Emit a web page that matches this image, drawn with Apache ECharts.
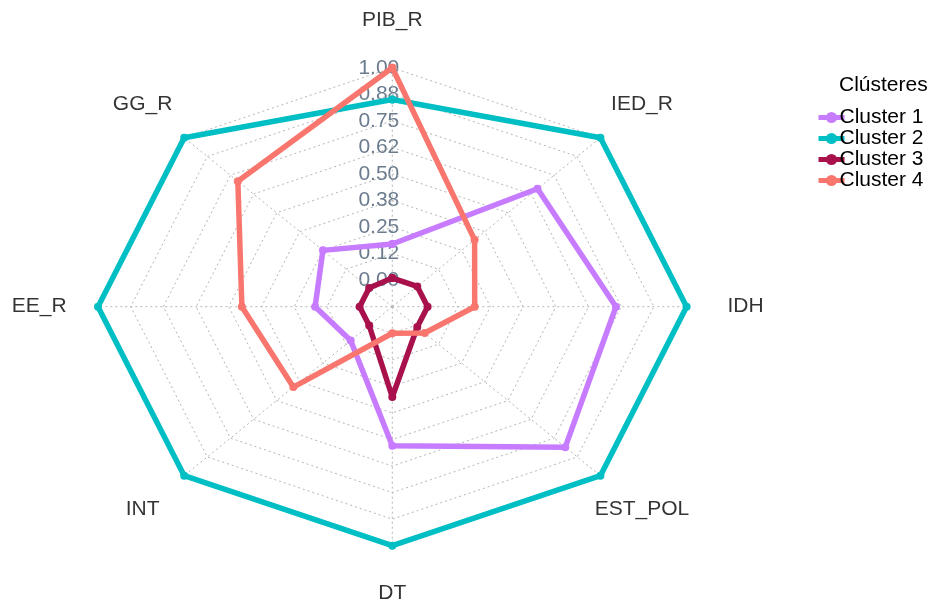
<!DOCTYPE html>
<html>
<head>
<meta charset="utf-8">
<script src="https://cdn.jsdelivr.net/npm/echarts@6/dist/echarts.min.js"></script>
<style>
  html, body { margin: 0; padding: 0; background: #fff; }
  #chart { width: 935px; height: 606px; }
</style>
</head>
<body>
<div id="chart"></div>
<script>
// axes of the radar, clockwise from the top
var indicators = ['PIB_R', 'IED_R', 'IDH', 'EST_POL', 'DT', 'INT', 'EE_R', 'GG_R'];
var clusterNames = ['Cluster 1', 'Cluster 2', 'Cluster 3', 'Cluster 4'];
var cluster1 = [0.17, 0.66, 0.73, 0.81, 0.53, 0.10, 0.17, 0.25];
var cluster2 = [0.85, 1.00, 1.00, 1.00, 1.00, 1.00, 1.00, 1.00];
var cluster3 = [0.01, 0.01, 0.01, 0.01, 0.30, 0.00, 0.00, 0.00];
var cluster4 = [1.00, 0.32, 0.19, 0.05, 0.00, 0.41, 0.45, 0.71];
var tickLabels = ['0.00', '0.12', '0.25', '0.38', '0.50', '0.62', '0.75', '0.88', '1.00'];

var colors = ['#C77CFF', '#00BFC4', '#A8114B', '#F8766D'];
var STEP = 0.125;          // one ring
var OFFSET = 0.125;        // value 0 sits on the first ring
var OUTER = 1.125;         // outermost ring
var NAME_R = 1.35;         // where the axis names sit

function angle(i) {
    return Math.PI / 2 - i * 2 * Math.PI / indicators.length;
}
function toXY(v, i) {
    var r = v + OFFSET;
    return [r * Math.cos(angle(i)), r * Math.sin(angle(i))];
}
function polygon(values) {
    var pts = values.map(function (v, i) { return toXY(v, i); });
    pts.push(pts[0]);
    return pts;
}

// dotted web: rings and spokes
var rings = [];
for (var k = 1; k * STEP <= OUTER + 1e-9; k++) {
    var ring = [];
    for (var i = 0; i <= indicators.length; i++) {
        var a = angle(i % indicators.length);
        ring.push([k * STEP * Math.cos(a), k * STEP * Math.sin(a)]);
    }
    rings.push({ coords: ring });
}
var spokes = indicators.map(function (n, i) {
    return { coords: [[0, 0], [OUTER * Math.cos(angle(i)), OUTER * Math.sin(angle(i))]] };
});

var names = indicators.map(function (n, i) {
    return { value: [NAME_R * Math.cos(angle(i)), NAME_R * Math.sin(angle(i))], name: n };
});

var clusters = [cluster1, cluster2, cluster3, cluster4];
var series = [
    {
        type: 'lines', coordinateSystem: 'cartesian2d', polyline: true, silent: true,
        lineStyle: { color: '#b5b5b5', width: 1, type: [2, 3], opacity: 1 },
        data: rings, z: 1
    },
    {
        type: 'lines', coordinateSystem: 'cartesian2d', polyline: true, silent: true,
        lineStyle: { color: '#b5b5b5', width: 1, type: [2, 3], opacity: 1 },
        data: spokes, z: 1
    },
    {
        type: 'scatter', symbolSize: 1, silent: true,
        itemStyle: { color: 'rgba(0,0,0,0)' },
        label: {
            show: true, position: 'inside', formatter: '{b}',
            color: '#000', fontSize: 21, fontFamily: 'Liberation Sans'
        },
        data: names
    }
];
clusters.forEach(function (vals, c) {
    series.push({
        name: clusterNames[c],
        type: 'line',
        data: polygon(vals),
        symbol: 'circle',
        symbolSize: 8,
        color: colors[c],
        lineStyle: { width: 5.5, color: colors[c] },
        itemStyle: { color: colors[c] },
        z: 3 + c
    });
});

var myChart = echarts.init(document.getElementById('chart'));
var option = {
    animation: false,
    backgroundColor: '#FFFFFF',
    title: {
        text: 'Clústeres',
        left: 834,
        top: 70,
        textStyle: { color: '#000', fontSize: 21, fontWeight: 'normal', fontFamily: 'Liberation Sans' }
    },
    legend: {
        data: clusterNames,
        orient: 'vertical',
        left: 811,
        top: 102,
        itemWidth: 26,
        itemHeight: 14,
        itemGap: 0,
        lineStyle: { width: 5 },
        textStyle: { color: '#000', fontSize: 21, fontFamily: 'Liberation Sans', padding: [0, 0, 0, -10] }
    },
    grid: { left: 32.6, top: 14.6, width: 719.4, height: 584.2 },
    xAxis: {
        type: 'value', min: -1.375, max: 1.375, show: false
    },
    yAxis: {
        type: 'value', min: -1.375, max: 1.375, interval: 0.125,
        position: 'left',
        offset: -359.7,
        axisLine: { show: false, onZero: false },
        axisTick: { show: false },
        splitLine: { show: false },
        axisLabel: {
            margin: -7,
            color: '#6b7b8e',
            fontSize: 21,
            fontFamily: 'Liberation Sans',
            formatter: function (v) {
                var idx = Math.round(v / STEP) - 1;
                return (idx >= 0 && idx < tickLabels.length) ? tickLabels[idx] : '';
            }
        }
    },
    series: series
};
myChart.setOption(option);
</script>
</body>
</html>
